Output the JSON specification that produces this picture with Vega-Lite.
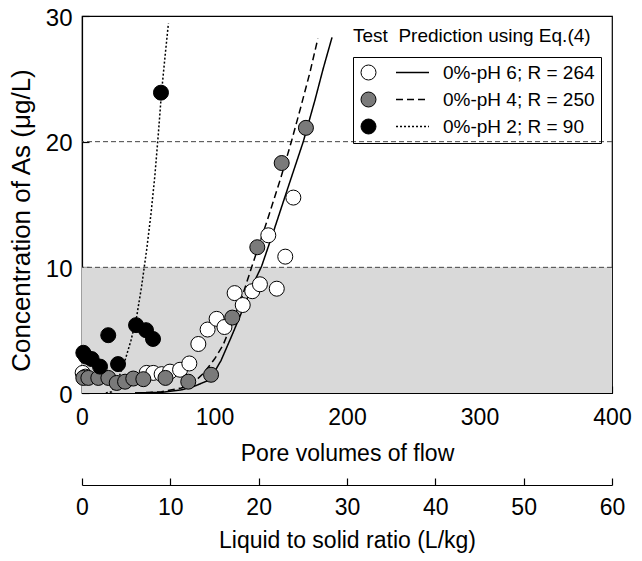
{
  "$schema": "https://vega.github.io/schema/vega-lite/v6.json",
  "width": 530,
  "height": 377,
  "autosize": {"type": "none"},
  "padding": {"left": 82, "top": 16, "right": 30, "bottom": 168},
  "background": "white",
  "config": {
    "font": "Liberation Sans",
    "view": {"stroke": "black", "strokeWidth": 1.2},
    "title": {"fontSize": 19, "fontWeight": "normal", "font": "Liberation Sans", "color": "black"},
    "axis": {
      "grid": false,
      "domainColor": "black",
      "tickColor": "black",
      "labelColor": "black",
      "titleColor": "black",
      "titleFontWeight": "normal",
      "labelFont": "Liberation Sans",
      "titleFont": "Liberation Sans",
      "domainWidth": 1.2,
      "tickWidth": 1.2
    }
  },
  "title": {
    "text": "Test\u00a0\u00a0Prediction using Eq.(4)",
    "anchor": "start",
    "frame": "group",
    "dx": 271,
    "dy": 44,
    "fontSize": 19,
    "fontWeight": "normal",
    "font": "Liberation Sans",
    "color": "black"
  },
  "layer": [
    {
      "layer": [
        {
          "data": {"values": [{"lo": 0, "hi": 10}]},
          "mark": {"type": "rect", "color": "#d9d9d9"},
          "encoding": {
            "x": {"datum": 0, "type": "quantitative"},
            "x2": {"datum": 400},
            "y": {"field": "lo", "type": "quantitative"},
            "y2": {"field": "hi"}
          }
        },
        {
          "data": {"values": [{"limit": 10}, {"limit": 20}]},
          "mark": {"type": "rule", "color": "#444444", "strokeDash": [5, 3], "strokeWidth": 1},
          "encoding": {"y": {"field": "limit", "type": "quantitative"}}
        },
        {
          "data": {"values": [
            {"pred": "pred6", "pv": 40, "conc": 0},
            {"pred": "pred6", "pv": 60, "conc": 0.05},
            {"pred": "pred6", "pv": 75, "conc": 0.25},
            {"pred": "pred6", "pv": 85, "conc": 0.55},
            {"pred": "pred6", "pv": 96.6, "conc": 1.05},
            {"pred": "pred6", "pv": 105, "conc": 2.6},
            {"pred": "pred6", "pv": 112, "conc": 4.3},
            {"pred": "pred6", "pv": 120, "conc": 6.3},
            {"pred": "pred6", "pv": 128, "conc": 8.4},
            {"pred": "pred6", "pv": 135.6, "conc": 10.1},
            {"pred": "pred6", "pv": 145, "conc": 13},
            {"pred": "pred6", "pv": 155, "conc": 16.2},
            {"pred": "pred6", "pv": 167, "conc": 20},
            {"pred": "pred6", "pv": 175.8, "conc": 23.3},
            {"pred": "pred6", "pv": 182, "conc": 25.8},
            {"pred": "pred6", "pv": 188.7, "conc": 28.3},
            {"pred": "pred4", "pv": 40, "conc": 0},
            {"pred": "pred4", "pv": 60, "conc": 0.1},
            {"pred": "pred4", "pv": 75, "conc": 0.4},
            {"pred": "pred4", "pv": 84, "conc": 0.8},
            {"pred": "pred4", "pv": 92, "conc": 1.6},
            {"pred": "pred4", "pv": 100, "conc": 2.7},
            {"pred": "pred4", "pv": 106.4, "conc": 3.8},
            {"pred": "pred4", "pv": 113, "conc": 5.5},
            {"pred": "pred4", "pv": 120, "conc": 7.4},
            {"pred": "pred4", "pv": 128, "conc": 10},
            {"pred": "pred4", "pv": 140, "conc": 13.8},
            {"pred": "pred4", "pv": 150, "conc": 17.1},
            {"pred": "pred4", "pv": 158, "conc": 20},
            {"pred": "pred4", "pv": 165, "conc": 22.7},
            {"pred": "pred4", "pv": 172, "conc": 25.5},
            {"pred": "pred4", "pv": 178, "conc": 28.2},
            {"pred": "pred2", "pv": 18, "conc": 0},
            {"pred": "pred2", "pv": 22.4, "conc": 0.1},
            {"pred": "pred2", "pv": 27, "conc": 1.0},
            {"pred": "pred2", "pv": 32.5, "conc": 2.6},
            {"pred": "pred2", "pv": 37, "conc": 4.2},
            {"pred": "pred2", "pv": 41.3, "conc": 6.1},
            {"pred": "pred2", "pv": 45, "conc": 8.5},
            {"pred": "pred2", "pv": 48.8, "conc": 11.4},
            {"pred": "pred2", "pv": 52, "conc": 14.2},
            {"pred": "pred2", "pv": 55, "conc": 17.3},
            {"pred": "pred2", "pv": 57.6, "conc": 20.6},
            {"pred": "pred2", "pv": 60, "conc": 23.9},
            {"pred": "pred2", "pv": 62.5, "conc": 26.6},
            {"pred": "pred2", "pv": 65.2, "conc": 29.4}
          ]},
          "mark": {"type": "line", "color": "black", "strokeWidth": 1.5},
          "encoding": {
            "x": {"field": "pv", "type": "quantitative"},
            "y": {"field": "conc", "type": "quantitative"},
            "strokeDash": {
              "field": "pred",
              "type": "nominal",
              "scale": {"domain": ["pred6", "pred4", "pred2"], "range": [[1, 0], [7, 4], [2, 2]]},
              "legend": {
                "orient": "none",
                "legendX": 315,
                "legendY": 41,
                "title": null,
                "padding": 6,
                "rowPadding": 7,
                "labelFontSize": 19,
                "labelExpr": "''",
                "symbolType": "M-2,0H2",
                "symbolSize": 272,
                "symbolStrokeWidth": 1.5,
                "symbolStrokeColor": "black"
              }
            }
          }
        },
        {
          "data": {"values": [
            {"test": "0%-pH 6; R = 264", "pv": 0.5, "conc": 1.6},
            {"test": "0%-pH 6; R = 264", "pv": 2.5, "conc": 1.3},
            {"test": "0%-pH 6; R = 264", "pv": 48.8, "conc": 1.6},
            {"test": "0%-pH 6; R = 264", "pv": 53.8, "conc": 1.6},
            {"test": "0%-pH 6; R = 264", "pv": 60.1, "conc": 1.5},
            {"test": "0%-pH 6; R = 264", "pv": 66.4, "conc": 1.7},
            {"test": "0%-pH 6; R = 264", "pv": 74, "conc": 1.85},
            {"test": "0%-pH 6; R = 264", "pv": 81, "conc": 2.35},
            {"test": "0%-pH 6; R = 264", "pv": 87.8, "conc": 3.9},
            {"test": "0%-pH 6; R = 264", "pv": 94.8, "conc": 5.05},
            {"test": "0%-pH 6; R = 264", "pv": 101.6, "conc": 5.9},
            {"test": "0%-pH 6; R = 264", "pv": 107.5, "conc": 5.25},
            {"test": "0%-pH 6; R = 264", "pv": 115.2, "conc": 7.95},
            {"test": "0%-pH 6; R = 264", "pv": 121.3, "conc": 7.0},
            {"test": "0%-pH 6; R = 264", "pv": 128.5, "conc": 8.1},
            {"test": "0%-pH 6; R = 264", "pv": 134.3, "conc": 8.65},
            {"test": "0%-pH 6; R = 264", "pv": 140.6, "conc": 12.55},
            {"test": "0%-pH 6; R = 264", "pv": 147, "conc": 8.3},
            {"test": "0%-pH 6; R = 264", "pv": 153.4, "conc": 10.85},
            {"test": "0%-pH 6; R = 264", "pv": 159.5, "conc": 15.55},
            {"test": "0%-pH 4; R = 250", "pv": 1, "conc": 1.2},
            {"test": "0%-pH 4; R = 250", "pv": 4.8, "conc": 1.2},
            {"test": "0%-pH 4; R = 250", "pv": 12.3, "conc": 1.2},
            {"test": "0%-pH 4; R = 250", "pv": 19.9, "conc": 1.2},
            {"test": "0%-pH 4; R = 250", "pv": 26.2, "conc": 0.8},
            {"test": "0%-pH 4; R = 250", "pv": 32.5, "conc": 0.9},
            {"test": "0%-pH 4; R = 250", "pv": 38.7, "conc": 1.15},
            {"test": "0%-pH 4; R = 250", "pv": 46.3, "conc": 1.1},
            {"test": "0%-pH 4; R = 250", "pv": 63, "conc": 1.2},
            {"test": "0%-pH 4; R = 250", "pv": 80.2, "conc": 0.9},
            {"test": "0%-pH 4; R = 250", "pv": 97.4, "conc": 1.45},
            {"test": "0%-pH 4; R = 250", "pv": 113.4, "conc": 6.0},
            {"test": "0%-pH 4; R = 250", "pv": 132.3, "conc": 11.6},
            {"test": "0%-pH 4; R = 250", "pv": 150.7, "conc": 18.3},
            {"test": "0%-pH 4; R = 250", "pv": 169, "conc": 21.1},
            {"test": "0%-pH 2; R = 90", "pv": 1, "conc": 3.2},
            {"test": "0%-pH 2; R = 90", "pv": 3, "conc": 2.9},
            {"test": "0%-pH 2; R = 90", "pv": 7.3, "conc": 2.7},
            {"test": "0%-pH 2; R = 90", "pv": 13.6, "conc": 2.1},
            {"test": "0%-pH 2; R = 90", "pv": 19.8, "conc": 4.6},
            {"test": "0%-pH 2; R = 90", "pv": 27.2, "conc": 2.3},
            {"test": "0%-pH 2; R = 90", "pv": 40.8, "conc": 5.4},
            {"test": "0%-pH 2; R = 90", "pv": 48.3, "conc": 5.0},
            {"test": "0%-pH 2; R = 90", "pv": 53.6, "conc": 4.3},
            {"test": "0%-pH 2; R = 90", "pv": 59.6, "conc": 23.9}
          ]},
          "mark": {"type": "point", "shape": "circle", "filled": true, "stroke": "black", "strokeWidth": 1, "size": 225, "opacity": 1},
          "encoding": {
            "x": {
              "field": "pv",
              "type": "quantitative",
              "scale": {"domain": [0, 400]},
              "axis": {
                "title": "Pore volumes of flow",
                "values": [0, 100, 200, 300, 400],
                "tickSize": -7,
                "labelPadding": 20,
                "labelFontSize": 23,
                "titleFontSize": 23,
                "titlePadding": 13,
                "labelFlush": false
              }
            },
            "y": {
              "field": "conc",
              "type": "quantitative",
              "scale": {"domain": [0, 30]},
              "axis": {
                "title": "Concentration of As (μg/L)",
                "values": [0, 10, 20, 30],
                "tickSize": -7,
                "labelPadding": 17,
                "labelOffset": 2,
                "labelFontSize": 24,
                "titleFontSize": 26,
                "titlePadding": 11,
                "titleY": 204,
                "labelFlush": false
              }
            },
            "fill": {
              "field": "test",
              "type": "nominal",
              "scale": {"domain": ["0%-pH 6; R = 264", "0%-pH 4; R = 250", "0%-pH 2; R = 90"], "range": ["white", "#7a7a7a", "black"]},
              "legend": {
                "orient": "none",
                "legendX": 271,
                "legendY": 41,
                "title": null,
                "padding": 6,
                "rowPadding": 7,
                "labelOffset": 65,
                "labelFontSize": 19,
                "labelColor": "black",
                "symbolType": "circle",
                "symbolSize": 225,
                "symbolStrokeColor": "black",
                "symbolStrokeWidth": 1,
                "symbolOpacity": 1,
                "strokeColor": "black"
              }
            }
          }
        }
      ]
    },
    {
      "data": {"values": [{"ls": 0}, {"ls": 60}]},
      "mark": {"type": "point", "opacity": 0},
      "encoding": {
        "x": {
          "field": "ls",
          "type": "quantitative",
          "scale": {"domain": [0, 60]},
          "axis": {
            "orient": "bottom",
            "offset": 92,
            "title": "Liquid to solid ratio (L/kg)",
            "values": [0, 10, 20, 30, 40, 50, 60],
            "tickSize": -7,
            "labelPadding": 18,
            "labelFontSize": 23,
            "titleFontSize": 23,
            "titlePadding": 10,
            "labelFlush": false
          }
        }
      }
    }
  ],
  "resolve": {"scale": {"x": "independent"}}
}
